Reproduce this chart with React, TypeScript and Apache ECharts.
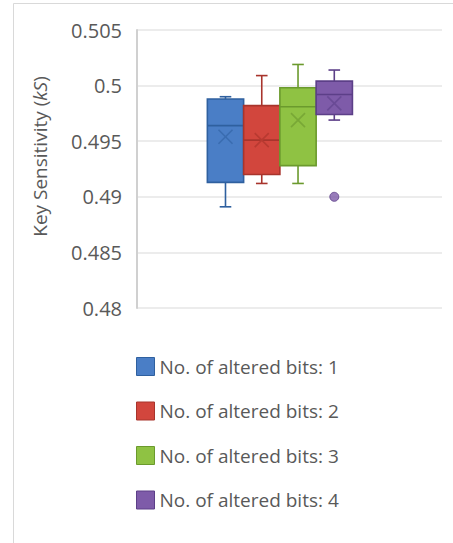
import React, { useEffect, useRef } from "react";
import * as echarts from "echarts";

const seriesNames = [
  "No. of altered bits: 1",
  "No. of altered bits: 2",
  "No. of altered bits: 3",
  "No. of altered bits: 4",
];
const positions = [1, 2, 3, 4];
const minValues = [0.4891, 0.4912, 0.4912, 0.4969];
const q1Values = [0.4913, 0.492, 0.4928, 0.4974];
const medianValues = [0.4964, 0.4951, 0.4981, 0.4992];
const q3Values = [0.4988, 0.4982, 0.4998, 0.5004];
const maxValues = [0.499, 0.5009, 0.5019, 0.5014];
const meanValues = [0.4954, 0.4951, 0.4969, 0.4984];
const outlierSeriesIndex = [3];
const outlierValues = [0.49];

const fillColors = ["#4a7ec6", "#d2463d", "#8fc243", "#7e5ba9"];
const strokeColors = ["#2f609f", "#a8342c", "#6b9a2d", "#5c3f88"];
const markColors = ["#3a6cb0", "#b83a31", "#79a836", "#6a4b96"];

const FONT = "'Open Sans', 'Noto Sans', sans-serif";
const TEXT_COLOR = "#595959";

export default function App() {
  const ref = useRef<HTMLDivElement>(null);

  useEffect(() => {
    if (!ref.current) return;
    const chart = echarts.init(ref.current, undefined, { renderer: "svg" });

    const boxSeries = seriesNames.map((name, i) => ({
      name,
      type: "custom",
      itemStyle: { color: fillColors[i], borderColor: strokeColors[i] },
      data: [
        [
          positions[i],
          minValues[i],
          q1Values[i],
          medianValues[i],
          q3Values[i],
          maxValues[i],
          meanValues[i],
        ],
      ],
      encode: { x: 0, y: [1, 2, 3, 4, 5, 6] },
      renderItem: (params: any, api: any) => {
        const x = api.value(0);
        const w = api.size([1, 0])[0];
        const pMin = api.coord([x, api.value(1)]);
        const pQ1 = api.coord([x, api.value(2)]);
        const pMed = api.coord([x, api.value(3)]);
        const pQ3 = api.coord([x, api.value(4)]);
        const pMax = api.coord([x, api.value(5)]);
        const pMean = api.coord([x, api.value(6)]);
        const cx = pMin[0];
        const left = cx - w / 2;
        const cap = w * 0.16;
        const xs = 7;
        const lineStyle = { stroke: strokeColors[i], lineWidth: 1.6 };
        const markStyle = { stroke: markColors[i], lineWidth: 1.6 };
        return {
          type: "group",
          children: [
            { type: "line", shape: { x1: cx, y1: pQ3[1], x2: cx, y2: pMax[1] }, style: lineStyle },
            { type: "line", shape: { x1: cx, y1: pQ1[1], x2: cx, y2: pMin[1] }, style: lineStyle },
            { type: "line", shape: { x1: cx - cap, y1: pMax[1], x2: cx + cap, y2: pMax[1] }, style: lineStyle },
            { type: "line", shape: { x1: cx - cap, y1: pMin[1], x2: cx + cap, y2: pMin[1] }, style: lineStyle },
            {
              type: "rect",
              shape: { x: left, y: pQ3[1], width: w, height: pQ1[1] - pQ3[1] },
              style: { fill: fillColors[i], stroke: strokeColors[i], lineWidth: 1.6 },
            },
            { type: "line", shape: { x1: left, y1: pMed[1], x2: left + w, y2: pMed[1] }, style: lineStyle },
            { type: "line", shape: { x1: cx - xs, y1: pMean[1] - xs, x2: cx + xs, y2: pMean[1] + xs }, style: markStyle },
            { type: "line", shape: { x1: cx - xs, y1: pMean[1] + xs, x2: cx + xs, y2: pMean[1] - xs }, style: markStyle },
          ],
        };
      },
    }));

    const outlierSeries = {
      name: "outliers",
      type: "scatter",
      symbol: "circle",
      symbolSize: 9,
      itemStyle: { color: fillColors[3], borderColor: strokeColors[3], borderWidth: 1 },
      data: outlierValues.map((v, k) => [positions[outlierSeriesIndex[k]], v]),
    };

    chart.setOption({
      animation: false,
      backgroundColor: "#ffffff",
      textStyle: { fontFamily: FONT },
      graphic: [
        {
          type: "polyline",
          shape: { points: [[13.5, 543], [13.5, 3.5], [453, 3.5]] },
          style: { stroke: "#d9d9d9", lineWidth: 1, fill: "none" },
        },
      ],
      grid: { left: 137, right: 11, top: 30, bottom: 235, containLabel: false },
      legend: {
        orient: "vertical",
        left: 131,
        top: 352,
        itemWidth: 18,
        itemHeight: 18,
        itemGap: 25.5,
        icon: "rect",
        data: seriesNames.map((n, i) => ({
          name: n,
          itemStyle: { color: fillColors[i], borderColor: strokeColors[i], borderWidth: 1 },
        })),
        textStyle: { fontFamily: FONT, fontSize: 19, color: TEXT_COLOR },
      },
      xAxis: {
        type: "value",
        min: -1.44,
        max: 6.97,
        show: false,
      },
      yAxis: {
        type: "value",
        min: 0.48,
        max: 0.505,
        interval: 0.005,
        name: "{a|Key Sensitivity (}{b|kS}{a|)}",
        nameLocation: "middle",
        nameGap: 88,
        nameTextStyle: {
          padding: [0, 0, 0, 25],
          rich: {
            a: { fontFamily: FONT, fontSize: 19, color: TEXT_COLOR },
            b: { fontFamily: FONT, fontSize: 19, color: TEXT_COLOR, fontStyle: "italic" },
          },
        },
        axisLine: { show: true, onZero: false, lineStyle: { color: "#d0d0d0", width: 2 } },
        axisTick: { show: false },
        axisLabel: {
          margin: 15,
          fontFamily: FONT,
          fontSize: 20,
          color: TEXT_COLOR,
          formatter: (v: number) => String(parseFloat(v.toFixed(3))),
        },
        splitLine: { show: true, lineStyle: { color: "#e6e6e6", width: 1.5 } },
      },
      series: [...boxSeries, outlierSeries],
    });

    return () => chart.dispose();
  }, []);

  return (
    <div
      ref={ref}
      style={{ position: "fixed", left: 0, top: 0, width: 453, height: 543 }}
    />
  );
}
